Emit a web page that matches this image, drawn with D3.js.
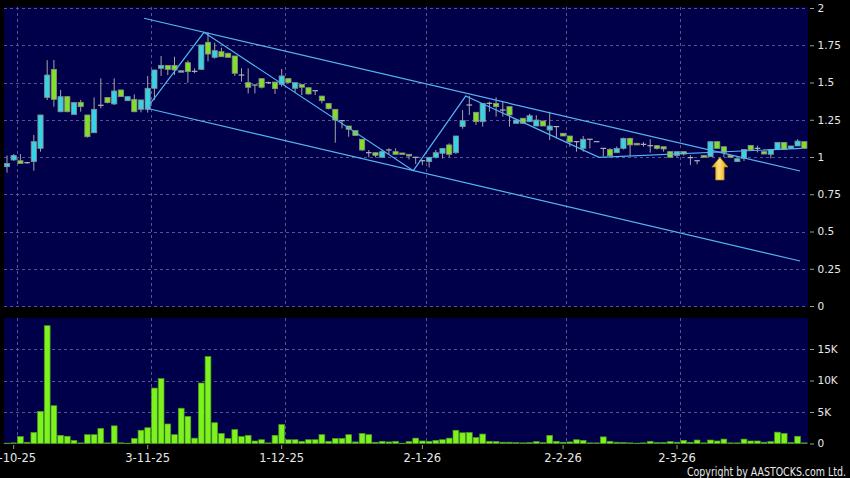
<!DOCTYPE html>
<html><head><meta charset="utf-8">
<script src="https://cdn.jsdelivr.net/npm/d3@7"></script>
<style>html,body{margin:0;padding:0;background:#000;}svg{display:block;}</style>
</head><body>
<script>
// ---------- DATA ----------
const dates = [
"30-9-25",
"2-10-25","3-10-25","6-10-25","8-10-25","9-10-25","10-10-25","13-10-25","14-10-25","15-10-25","16-10-25",
"17-10-25","20-10-25","21-10-25","22-10-25","23-10-25","24-10-25","27-10-25","28-10-25","30-10-25","31-10-25",
"3-11-25","4-11-25","5-11-25","6-11-25","7-11-25","10-11-25","11-11-25","12-11-25","13-11-25","14-11-25",
"17-11-25","18-11-25","19-11-25","20-11-25","21-11-25","24-11-25","25-11-25","26-11-25","27-11-25","28-11-25",
"1-12-25","2-12-25","3-12-25","4-12-25","5-12-25","8-12-25","9-12-25","10-12-25","11-12-25","12-12-25",
"15-12-25","16-12-25","17-12-25","18-12-25","19-12-25","22-12-25","23-12-25","24-12-25","29-12-25","30-12-25","31-12-25",
"2-1-26","5-1-26","6-1-26","7-1-26","8-1-26","9-1-26","12-1-26","13-1-26","14-1-26","15-1-26",
"16-1-26","19-1-26","20-1-26","21-1-26","22-1-26","23-1-26","26-1-26","27-1-26","28-1-26","29-1-26","30-1-26",
"2-2-26","3-2-26","4-2-26","5-2-26","6-2-26","9-2-26","10-2-26","11-2-26","12-2-26","13-2-26",
"16-2-26","20-2-26","23-2-26","24-2-26","25-2-26","26-2-26","27-2-26",
"2-3-26","3-3-26","4-3-26","5-3-26","6-3-26","9-3-26","10-3-26","11-3-26","12-3-26","13-3-26",
"16-3-26","17-3-26","18-3-26","19-3-26","20-3-26","23-3-26","24-3-26","25-3-26","26-3-26","27-3-26"
];

const open = [
.935,.98,.975,.962,.969,1.058,1.40,1.588,1.304,1.405,
1.286,1.367,1.282,1.163,1.347,1.40,1.356,1.45,1.378,1.387,
1.32,1.32,1.461,1.595,1.615,1.615,1.57,1.633,1.575,1.588,
1.77,1.669,1.707,1.696,1.678,1.55,1.499,1.483,1.526,1.499,
1.503,1.488,1.526,1.461,1.486,1.465,1.445,1.409,1.36,1.32,
1.244,1.208,1.177,1.119,1.029,1.029,.998,1.047,1.036,1.027,
1.018,.998,.975,.969,.998,1.025,1.081,1.029,1.204,1.349,
1.30,1.237,1.36,1.36,1.315,1.338,1.226,1.26,1.237,1.208,
1.242,1.181,1.204,1.159,1.141,1.103,1.058,1.119,1.103,1.058,
1.051,1.029,1.058,1.125,1.092,1.085,1.076,1.076,1.069,1.036,
1.011,1.036,.996,.975,1.011,1.002,1.103,1.069,1.011,.969,
.991,1.078,1.058,1.036,1.018,1.051,1.098,1.058,1.074,1.103
];
const close = [
.957,1.01,.957,.962,1.103,1.282,1.55,1.387,1.405,1.304,
1.365,1.338,1.136,1.32,1.347,1.365,1.443,1.405,1.405,1.304,
1.383,1.461,1.584,1.615,1.588,1.584,1.579,1.573,1.575,1.752,
1.691,1.714,1.673,1.669,1.562,1.55,1.468,1.483,1.468,1.499,
1.459,1.544,1.499,1.499,1.468,1.423,1.445,1.378,1.324,1.248,
1.244,1.186,1.145,1.047,1.029,1.011,1.036,1.047,1.018,1.018,
1.007,.998,.975,.998,1.029,1.058,1.018,1.141,1.244,1.349,
1.237,1.36,1.36,1.338,1.315,1.282,1.248,1.226,1.277,1.248,
1.208,1.208,1.204,1.141,1.101,1.103,1.119,1.119,1.103,1.058,
1.009,1.058,1.125,1.081,1.081,1.085,1.076,1.058,1.054,.998,
1.036,1.020,.996,.975,.998,1.103,1.058,1.031,.998,.989,
1.051,1.047,1.058,1.020,1.051,1.098,1.051,1.074,1.107,1.058
];
const high = [
1.01,1.02,1.02,.967,1.148,1.282,1.65,1.651,1.45,1.41,
1.365,1.383,1.282,1.40,1.528,1.40,1.528,1.45,1.405,1.42,
1.383,1.544,1.584,1.678,1.615,1.673,1.58,1.647,1.595,1.752,
1.837,1.767,1.734,1.70,1.678,1.595,1.595,1.483,1.526,1.505,
1.503,1.591,1.53,1.499,1.486,1.465,1.445,1.409,1.36,1.32,
1.244,1.208,1.177,1.119,1.047,1.029,1.05,1.058,1.058,1.027,
1.018,.998,.98,.998,1.047,1.058,1.092,1.141,1.315,1.409,
1.30,1.36,1.371,1.40,1.371,1.338,1.248,1.26,1.29,1.28,
1.242,1.304,1.204,1.159,1.141,1.103,1.141,1.119,1.103,1.058,
1.06,1.07,1.13,1.13,1.092,1.10,1.119,1.08,1.069,1.036,
1.036,1.036,1.013,.975,1.011,1.103,1.103,1.069,1.011,.989,
1.051,1.078,1.076,1.036,1.051,1.098,1.098,1.074,1.12,1.103
];
const low = [
.895,.975,.955,.955,.908,1.036,1.383,1.338,1.30,1.30,
1.286,1.304,1.13,1.163,1.327,1.36,1.349,1.405,1.378,1.30,
1.30,1.298,1.383,1.544,1.55,1.55,1.57,1.499,1.562,1.588,
1.641,1.66,1.673,1.669,1.544,1.506,1.427,1.427,1.46,1.49,
1.423,1.472,1.499,1.432,1.416,1.42,1.416,1.36,1.32,1.096,
1.192,1.136,1.145,1.04,.998,.998,.998,1.013,1.018,1.018,
.984,.953,.946,.93,.99,.99,1.0,1.02,1.19,1.282,
1.215,1.204,1.304,1.271,1.271,1.204,1.226,1.226,1.237,1.208,
1.208,1.114,1.125,1.141,1.069,1.036,1.036,1.058,1.103,1.002,
1.0,1.029,1.05,1.007,1.081,1.07,1.029,1.05,1.036,.998,
1.0,1.01,.946,.951,.998,1.0,1.058,1.0,.998,.969,
.973,1.047,1.031,1.020,.991,1.051,1.051,1.058,1.074,1.058
];
const volume = [
50,100,1100,200,1750,5100,18700,6000,1300,1150,
500,100,1400,1400,2400,100,2800,100,50,800,
2100,2500,8800,10300,3100,1400,5600,4300,850,9600,
13800,3300,1600,800,2200,1100,1300,400,600,100,
1300,3000,600,600,350,600,600,1400,350,800,
800,1400,250,1600,1400,200,350,250,350,50,
300,850,400,350,500,600,850,2100,1700,1750,
950,1500,350,300,200,200,150,100,150,300,
150,1300,350,200,250,600,500,100,100,1050,
350,200,150,100,50,100,350,150,150,300,
200,500,200,550,100,550,400,700,100,100,
700,400,400,200,300,1800,1600,150,1150,100
];

const tickDates = ["2-10-25","3-11-25","1-12-25","2-1-26","2-2-26","2-3-26"];
const priceTicks = [0,0.25,0.5,0.75,1,1.25,1.5,1.75,2];
const volTicks = [0,5000,10000,15000];

// trend lines: [bar index, price]
const channelUpper = [[20.45,1.931],[118.36,0.906]];
const channelLower = [[20.85,1.327],[118.36,0.302]];
const zigzag = [[20.85,1.327],[29.4,1.837],[60.64,0.908],[68.46,1.409],[88.36,0.998],[118.6,1.058]];
const arrowMark = [106.4, 0.997];

// ---------- CHART ----------
const W = 850, H = 478;
const svg = d3.select("body").append("svg").attr("width", W).attr("height", H);
svg.append("rect").attr("width", W).attr("height", H).attr("fill", "#000");

const x = d3.scaleBand().domain(dates).range([3.65, 807.65]).padding(0);
const bw = x.bandwidth();
const xi = i => x.range()[0] + (i + 0.5) * bw;
const yP = d3.scaleLinear().domain([0, 2]).range([306, 8]);
const yV = d3.scaleLinear().domain([0, 20000]).range([443.5, 317.5]);

const navy = "#00004a", gridCol = "#55558e";
// panels
svg.append("rect").attr("x", 4).attr("y", 7).attr("width", 804).attr("height", 300).attr("fill", navy);
svg.append("rect").attr("x", 4).attr("y", 318).attr("width", 804).attr("height", 126).attr("fill", navy);

// grids
const grid = svg.append("g").attr("stroke", gridCol).attr("stroke-width", 1).attr("stroke-dasharray", "3,3");
priceTicks.forEach(t => grid.append("line").attr("x1", 4).attr("x2", 808)
  .attr("y1", Math.round(yP(t)) + 0.5).attr("y2", Math.round(yP(t)) + 0.5));
volTicks.filter(t => t > 0).forEach(t => grid.append("line").attr("x1", 4).attr("x2", 808)
  .attr("y1", Math.round(yV(t)) + 0.5).attr("y2", Math.round(yV(t)) + 0.5));
tickDates.forEach(d => {
  const gx = Math.round(x(d) + bw) + 0.5;
  grid.append("line").attr("x1", gx).attr("x2", gx).attr("y1", 7).attr("y2", 307);
  grid.append("line").attr("x1", gx).attr("x2", gx).attr("y1", 318).attr("y2", 444);
});

// candles
const cyan = "#36d2e6", lime = "#80e026";
const cg = svg.append("g");
dates.forEach((d, i) => {
  const c = x(d) + bw / 2;
  cg.append("line").attr("x1", c).attr("x2", c).attr("y1", yP(high[i])).attr("y2", yP(low[i]))
    .attr("stroke", "#a4a4a4").attr("stroke-width", 1);
  if (open[i] === close[i]) {
    cg.append("line").attr("x1", c - 2.8).attr("x2", c + 2.8).attr("y1", yP(close[i])).attr("y2", yP(close[i]))
      .attr("stroke", "#b4b4b4").attr("stroke-width", 1.2);
  } else {
    const top = yP(Math.max(open[i], close[i])), bot = yP(Math.min(open[i], close[i]));
    cg.append("rect").attr("x", c - 2.6).attr("width", 5.2)
      .attr("y", top).attr("height", Math.max(1.5, bot - top))
      .attr("fill", close[i] > open[i] ? cyan : lime)
      .attr("stroke", "#8c8c8c").attr("stroke-width", 0.8);
  }
});

// trend lines
const line = d3.line().x(p => xi(p[0])).y(p => yP(p[1]));
[channelUpper, channelLower, zigzag].forEach(s =>
  svg.append("path").attr("d", line(s)).attr("fill", "none").attr("stroke", "#55b4ee").attr("stroke-width", 1.2));

// arrow
const defs = svg.append("defs");
const gr = defs.append("linearGradient").attr("id", "ag").attr("x1", "0").attr("x2", "1").attr("y1", "0").attr("y2", "0");
gr.append("stop").attr("offset", "0").attr("stop-color", "#e89a10");
gr.append("stop").attr("offset", "0.45").attr("stop-color", "#ffe27a");
gr.append("stop").attr("offset", "1").attr("stop-color", "#e89a10");
svg.append("path")
  .attr("transform", `translate(${xi(arrowMark[0])},${yP(arrowMark[1])})`)
  .attr("d", "M0,0 L8,9.5 L4.2,9.5 L4.2,22.5 L-4.2,22.5 L-4.2,9.5 L-8,9.5 Z")
  .attr("fill", "url(#ag)").attr("stroke", "#c78810").attr("stroke-width", 0.7);

// volume bars
svg.append("g").selectAll("rect").data(dates).join("rect")
  .attr("x", d => x(d) + bw / 2 - 2.9).attr("width", 5.8)
  .attr("y", (d, i) => yV(volume[i])).attr("height", (d, i) => Math.max(0.5, yV(0) - yV(volume[i])))
  .attr("fill", "#7ef21e").attr("stroke", "#4c9a1c").attr("stroke-width", 0.7);

// axes
const styleAxis = (g, fs) => {
  g.select(".domain").remove();
  g.selectAll(".tick line").attr("stroke", "#9a9a9a");
  g.selectAll(".tick text").attr("fill", "#e8e8e8").style("font-family", "DejaVu Sans").style("font-size", fs + "px");
};
svg.append("g").attr("transform", "translate(810,0)")
  .call(d3.axisRight(yP).tickValues(priceTicks).tickFormat(d => String(d)).tickSize(4).tickPadding(3.5))
  .call(g => styleAxis(g, 10.5));
svg.append("g").attr("transform", "translate(810,0)")
  .call(d3.axisRight(yV).tickValues(volTicks).tickFormat(d => d === 0 ? "0" : (d / 1000) + "K").tickSize(4).tickPadding(3.5))
  .call(g => styleAxis(g, 10.5));
svg.append("g").attr("transform", "translate(0,445)")
  .call(d3.axisBottom(x).tickValues(tickDates).tickSize(4).tickPadding(4.5))
  .call(g => styleAxis(g, 11.5));

svg.append("text").attr("x", 687).attr("y", 475.5).attr("textLength", 159).attr("lengthAdjust", "spacingAndGlyphs")
  .attr("fill", "#e8e8e8").style("font-family", "DejaVu Sans").style("font-size", "11.5px")
  .text("Copyright by AASTOCKS.com Ltd.");
</script>
</body></html>
